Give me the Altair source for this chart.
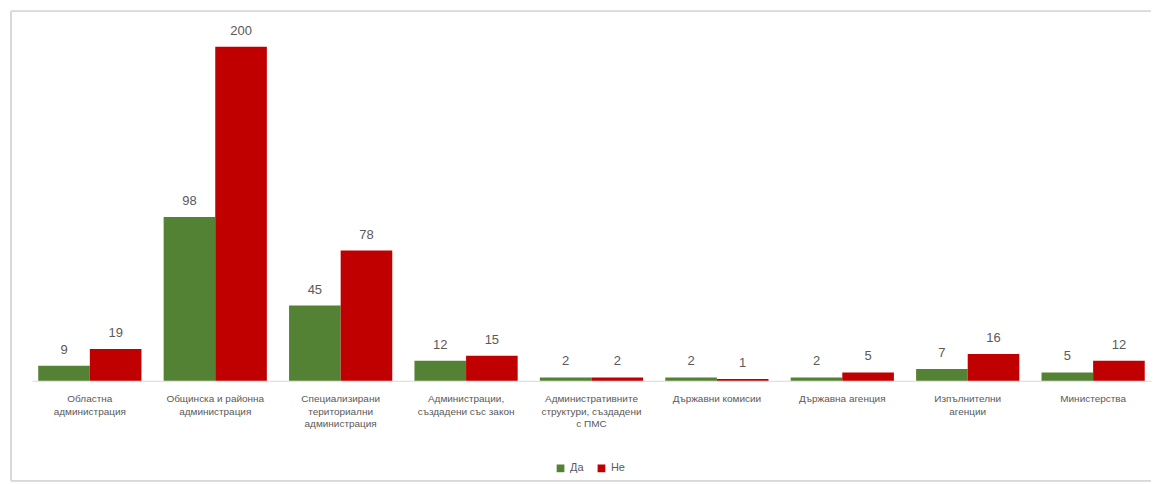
import altair as alt
import pandas as pd

categories = [
    "Областна|администрация",
    "Общинска и районна|администрация",
    "Специализирани|териториални|администрация",
    "Администрации,|създадени със закон",
    "Административните|структури, създадени|с ПМС",
    "Държавни комисии",
    "Държавна агенция",
    "Изпълнителни|агенции",
    "Министерства",
]
series = ["Да", "Не"]
da_values = [9, 98, 45, 12, 2, 2, 2, 7, 5]
ne_values = [19, 200, 78, 15, 2, 1, 5, 16, 12]
colors = ["#548235", "#C00000"]

rows = []
for c, a, b in zip(categories, da_values, ne_values):
    rows.append({"cat": c, "series": "Да", "value": a})
    rows.append({"cat": c, "series": "Не", "value": b})
df = pd.DataFrame(rows)

FONT = "Liberation Sans"

x = alt.X(
    "cat:N",
    sort=categories,
    scale=alt.Scale(paddingInner=0.177, paddingOuter=0.05),
    axis=alt.Axis(
        title=None,
        labelExpr="split(datum.label, '|')",
        labelAngle=0,
        ticks=False,
        domainColor="#d9d9d9",
        labelColor="#595959",
        labelFontSize=10,
        labelFont=FONT,
        labelLineHeight=12.5,
        labelPadding=13,
        labelLimit=0,
    ),
)
xo = alt.XOffset("series:N", sort=series, scale=alt.Scale(paddingInner=0, paddingOuter=0))
y = alt.Y("value:Q", scale=alt.Scale(domain=[0, 214]), axis=None)

base = alt.Chart(df)
bars = base.mark_bar().encode(
    x=x,
    xOffset=xo,
    y=y,
    color=alt.Color(
        "series:N",
        sort=series,
        scale=alt.Scale(domain=series, range=colors),
        legend=alt.Legend(
            orient="none",
            legendX=524,
            legendY=440,
            title=None,
            direction="horizontal",
            symbolType="square",
            symbolSize=60,
            labelFontSize=11,
            labelFont=FONT,
            labelColor="#595959",
            columnPadding=12,
        ),
    ),
)
labels = base.mark_text(dy=-9, fontSize=13, font=FONT, color="#595959", baseline="bottom").encode(
    x=x, xOffset=xo, y=y, text="value:Q"
)

frame_color = "#d9d9d9"
top_rule = alt.Chart(df).mark_rule(color=frame_color).encode(
    x=alt.value(-21), x2=alt.value(1121), y=alt.value(-12)
)
left_rule = alt.Chart(df).mark_rule(color=frame_color).encode(
    x=alt.value(-21), y=alt.value(-12), y2=alt.value(458)
)
bottom_rule = alt.Chart(df).mark_rule(color=frame_color).encode(
    x=alt.value(-21), x2=alt.value(1121), y=alt.value(458)
)

chart = (
    alt.layer(top_rule, left_rule, bottom_rule, bars, labels)
    .properties(
        width=1121,
        height=358,
        background="white",
        padding={"left": 2, "top": 2, "right": 0, "bottom": 0},
    )
    .configure_view(strokeWidth=0, stroke="transparent")
)

chart.save("out.html", embed_options={"renderer": "svg", "actions": False})
